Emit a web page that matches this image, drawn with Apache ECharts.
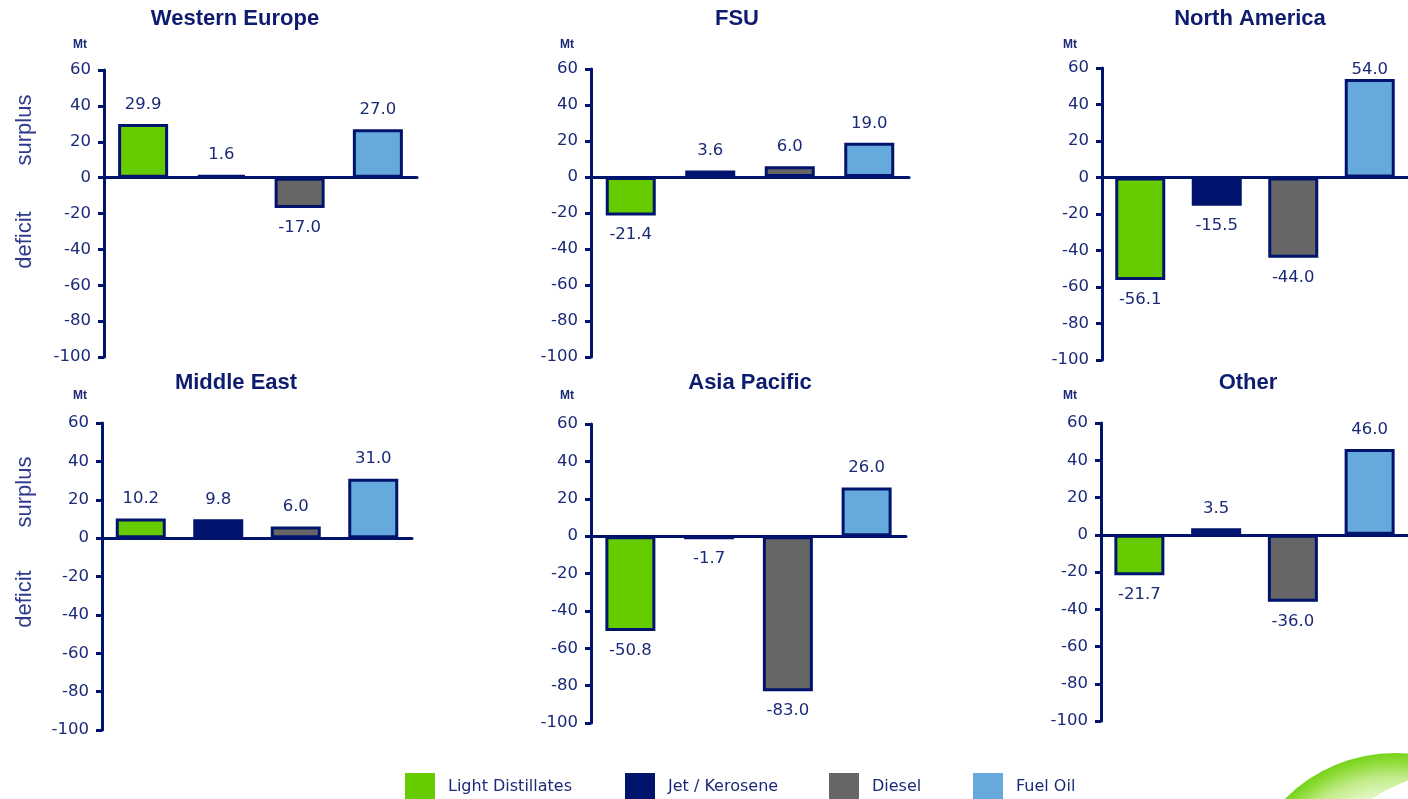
<!DOCTYPE html>
<html>
<head>
<meta charset="utf-8">
<title>Product balances by region</title>
<script src="https://cdn.jsdelivr.net/npm/echarts@6/dist/echarts.min.js"></script>
<style>
  html, body { margin: 0; padding: 0; background: #ffffff; }
  #chart { width: 1408px; height: 799px; }
</style>
</head>
<body>
<div id="chart"></div>
<script>
// Products shown in every regional panel
const products = ['Light Distillates', 'Jet / Kerosene', 'Diesel', 'Fuel Oil'];

// Regions (one panel each)
const regions = ['Western Europe', 'FSU', 'North America', 'Middle East', 'Asia Pacific', 'Other'];

// Surplus (+) / deficit (-) per product, Mt
const westernEurope = [29.9, 1.6, -17.0, 27.0];
const fsu           = [-21.4, 3.6, 6.0, 19.0];
const northAmerica  = [-56.1, -15.5, -44.0, 54.0];
const middleEast    = [10.2, 9.8, 6.0, 31.0];
const asiaPacific   = [-50.8, -1.7, -83.0, 26.0];
const other         = [-21.7, 3.5, -36.0, 46.0];

// Value axis scale
const yMin = -100;
const yMax = 60;
const yStep = 20;
const unitLabel = 'Mt';
const sideLabels = ['surplus', 'deficit'];

const regionValues = [westernEurope, fsu, northAmerica, middleEast, asiaPacific, other];

// ---- styling ----
const NAVY = '#00146e';
const TEXT = '#1b2a78';
const productColors = ['#66cc00', '#00146e', '#666666', '#66aadd'];
const NUM_FONT = 'DejaVu Sans';
const HEAD_FONT = 'Liberation Sans, Arial, sans-serif';

// Panel placement: plot area plus title / unit label anchors
const panels = [
  { left: 104,  top: 70,  width: 313, height: 287, titleX: 235,  titleY: 8,   unitX: 80,   unitY: 45 },
  { left: 591,  top: 69,  width: 318, height: 288, titleX: 737,  titleY: 8,   unitX: 567,  unitY: 45 },
  { left: 1102, top: 68,  width: 312, height: 292, titleX: 1250, titleY: 8,   unitX: 1070, unitY: 45 },
  { left: 102,  top: 423, width: 310, height: 307, titleX: 236,  titleY: 372, unitX: 80,   unitY: 396 },
  { left: 591,  top: 424, width: 315, height: 299, titleX: 750,  titleY: 372, unitX: 567,  unitY: 396 },
  { left: 1101, top: 423, width: 311, height: 298, titleX: 1248, titleY: 372, unitX: 1070, unitY: 396 }
];

// surplus / deficit captions on the left-hand column
const sideCaptions = [
  { x: 25, y: 130 }, { x: 25, y: 240 },
  { x: 25, y: 492 }, { x: 25, y: 599 }
];

const legendX = [405, 625, 829, 973];

const grid = [], xAxis = [], yAxis = [], series = [], title = [], graphic = [];

panels.forEach((p, i) => {
  grid.push({ left: p.left, top: p.top, width: p.width, height: p.height, containLabel: false });

  xAxis.push({
    gridIndex: i,
    type: 'category',
    data: products,
    boundaryGap: true,
    axisLine: { show: true, onZero: true, lineStyle: { color: NAVY, width: 3 } },
    axisTick: { show: false },
    axisLabel: { show: false },
    splitLine: { show: false }
  });

  yAxis.push({
    gridIndex: i,
    type: 'value',
    min: yMin,
    max: yMax,
    interval: yStep,
    axisLine: { show: true, lineStyle: { color: NAVY, width: 3 } },
    axisTick: { show: true, inside: false, length: 6, lineStyle: { color: NAVY, width: 3 } },
    axisLabel: { margin: 13, color: TEXT, fontFamily: NUM_FONT, fontSize: 16.5 },
    splitLine: { show: false }
  });

  title.push({
    text: regions[i],
    left: p.titleX,
    top: p.titleY,
    textAlign: 'center',
    padding: 0,
    textStyle: { fontFamily: HEAD_FONT, fontWeight: 'bold', fontSize: 22, color: '#0d1c6e' }
  });

  graphic.push({
    type: 'text',
    x: p.unitX,
    y: p.unitY,
    style: { text: unitLabel, align: 'center', verticalAlign: 'middle',
             font: 'bold 12px ' + HEAD_FONT, fill: TEXT }
  });

  const vals = regionValues[i];
  products.forEach((name, j) => {
    series.push({
      type: 'bar',
      name: name,
      xAxisIndex: i,
      yAxisIndex: i,
      barWidth: 50,
      barGap: '-100%',
      itemStyle: { color: productColors[j], borderColor: NAVY, borderWidth: 3 },
      label: {
        show: true,
        color: TEXT,
        fontFamily: NUM_FONT,
        fontSize: 16.5,
        formatter: (prm) => Number(prm.value).toFixed(1)
      },
      data: products.map((_, k) => {
        if (k !== j) return '-';
        const v = vals[j];
        // labels that would run past the top of the plot hug the bar instead
        const dist = v >= 0 ? (v > yMax - 10 ? 1 : 11) : 11;
        return { value: v, label: { position: v >= 0 ? 'top' : 'bottom', distance: dist } };
      })
    });
  });
});

sideCaptions.forEach((c, k) => {
  graphic.push({
    type: 'text',
    x: c.x,
    y: c.y,
    rotation: Math.PI / 2,
    style: { text: sideLabels[k % 2], align: 'center', verticalAlign: 'middle',
             font: '22px ' + HEAD_FONT, fill: '#2e3a8c' }
  });
});

// corner swoosh
graphic.push({
  type: 'circle',
  z: -10,
  shape: { cx: 1395, cy: 908, r: 155 },
  style: {
    fill: {
      type: 'radial', x: 0.5, y: 0.5, r: 0.5,
      colorStops: [
        { offset: 0.7, color: '#eaf9d4' },
        { offset: 0.84, color: '#c4ec8c' },
        { offset: 0.95, color: '#8cdb34' },
        { offset: 1, color: '#78d31c' }
      ]
    }
  }
});
graphic.push({
  type: 'circle',
  z: -9,
  shape: { cx: 1460, cy: 930, r: 158 },
  style: { fill: '#ffffff' }
});

// legend swatches run off the bottom edge of the page
const legend = products.map((name, j) => ({
  data: [name],
  left: legendX[j],
  top: 773,
  padding: 0,
  itemWidth: 30,
  itemHeight: 28,
  icon: 'rect',
  selectedMode: false,
  itemStyle: { borderWidth: 0 },
  textStyle: { fontFamily: NUM_FONT, fontSize: 16, color: TEXT, padding: [0, 0, 0, 8] }
}));

const chart = echarts.init(document.getElementById('chart'), null, { renderer: 'canvas' });
chart.setOption({
  animation: false,
  backgroundColor: '#ffffff',
  title: title,
  legend: legend,
  grid: grid,
  xAxis: xAxis,
  yAxis: yAxis,
  series: series,
  graphic: graphic
});
</script>
</body>
</html>
